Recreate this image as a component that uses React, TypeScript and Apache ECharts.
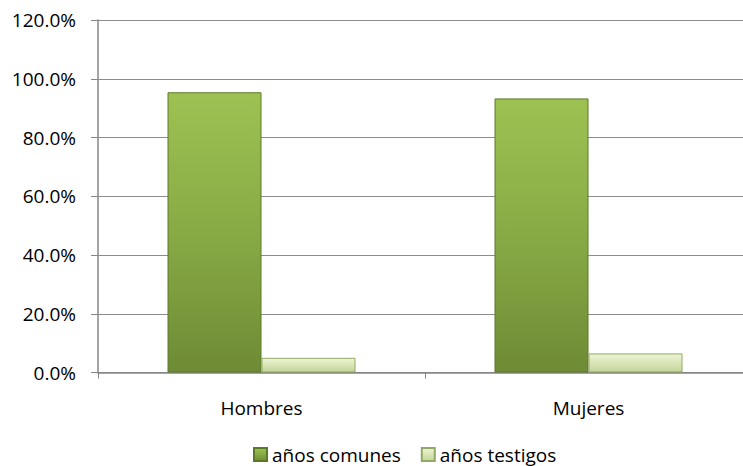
import React, { useEffect, useRef } from "react";
import * as echarts from "echarts";

const categories = ["Hombres", "Mujeres"];
const seriesNames = ["años comunes", "años testigos"];
const comunes = [0.954, 0.933];
const testigos = [0.05, 0.065];
const yTicks = { min: 0, max: 1.2, interval: 0.2 };

export default function App() {
  const ref = useRef<HTMLDivElement>(null);
  useEffect(() => {
    if (!ref.current) return;
    const chart = echarts.init(ref.current, null, { renderer: "svg" });
    const font = "'Open Sans', Lato, sans-serif";
    const darkGrad = new echarts.graphic.LinearGradient(0, 0, 0, 1, [
      { offset: 0, color: "#9dc252" },
      { offset: 0.5, color: "#88aa45" },
      { offset: 1, color: "#6e8b35" },
    ]);
    const lightGrad = new echarts.graphic.LinearGradient(0, 0, 0, 1, [
      { offset: 0, color: "#eef5d6" },
      { offset: 1, color: "#c2d597" },
    ]);
    chart.setOption({
      animation: false,
      backgroundColor: "#ffffff",
      grid: {
        left: 98,
        width: 654,
        top: 20,
        bottom: 93.5,
        containLabel: false,
        outerBoundsMode: "none",
      },
      legend: {
        top: 445,
        left: 253,
        padding: 0,
        itemWidth: 13,
        itemHeight: 13,
        itemGap: 20,
        icon: "rect",
        textStyle: { fontFamily: font, fontSize: 19, color: "#000" },
        data: seriesNames,
      },
      xAxis: {
        type: "category",
        data: categories,
        axisLine: { lineStyle: { color: "#868686", width: 1.5 } },
        axisTick: { show: true, length: 6, lineStyle: { color: "#868686" } },
        axisLabel: { margin: 26, fontFamily: font, fontSize: 19, color: "#000" },
      },
      yAxis: {
        type: "value",
        min: yTicks.min,
        max: yTicks.max,
        interval: yTicks.interval,
        axisLine: { show: true, lineStyle: { color: "#868686", width: 1.5 } },
        axisTick: { show: true, length: 7, lineStyle: { color: "#868686" } },
        axisLabel: {
          margin: 22,
          fontFamily: font,
          fontSize: 19,
          color: "#000",
          formatter: (v: number) => (v * 100).toFixed(1) + "%",
        },
        splitLine: { lineStyle: { color: "#8c8c8c", width: 1.2 } },
      },
      series: [
        {
          name: seriesNames[0],
          type: "bar",
          data: comunes,
          barWidth: 94,
          barGap: "0%",
          itemStyle: { color: darkGrad, borderColor: "#5b7a28", borderWidth: 1 },
        },
        {
          name: seriesNames[1],
          type: "bar",
          data: testigos,
          barWidth: 94,
          barGap: "0%",
          itemStyle: { color: lightGrad, borderColor: "#94a866", borderWidth: 1 },
        },
      ],
    });
    return () => chart.dispose();
  }, []);
  return <div ref={ref} style={{ width: 743, height: 466, position: "absolute", left: 0, top: 0 }} />;
}
